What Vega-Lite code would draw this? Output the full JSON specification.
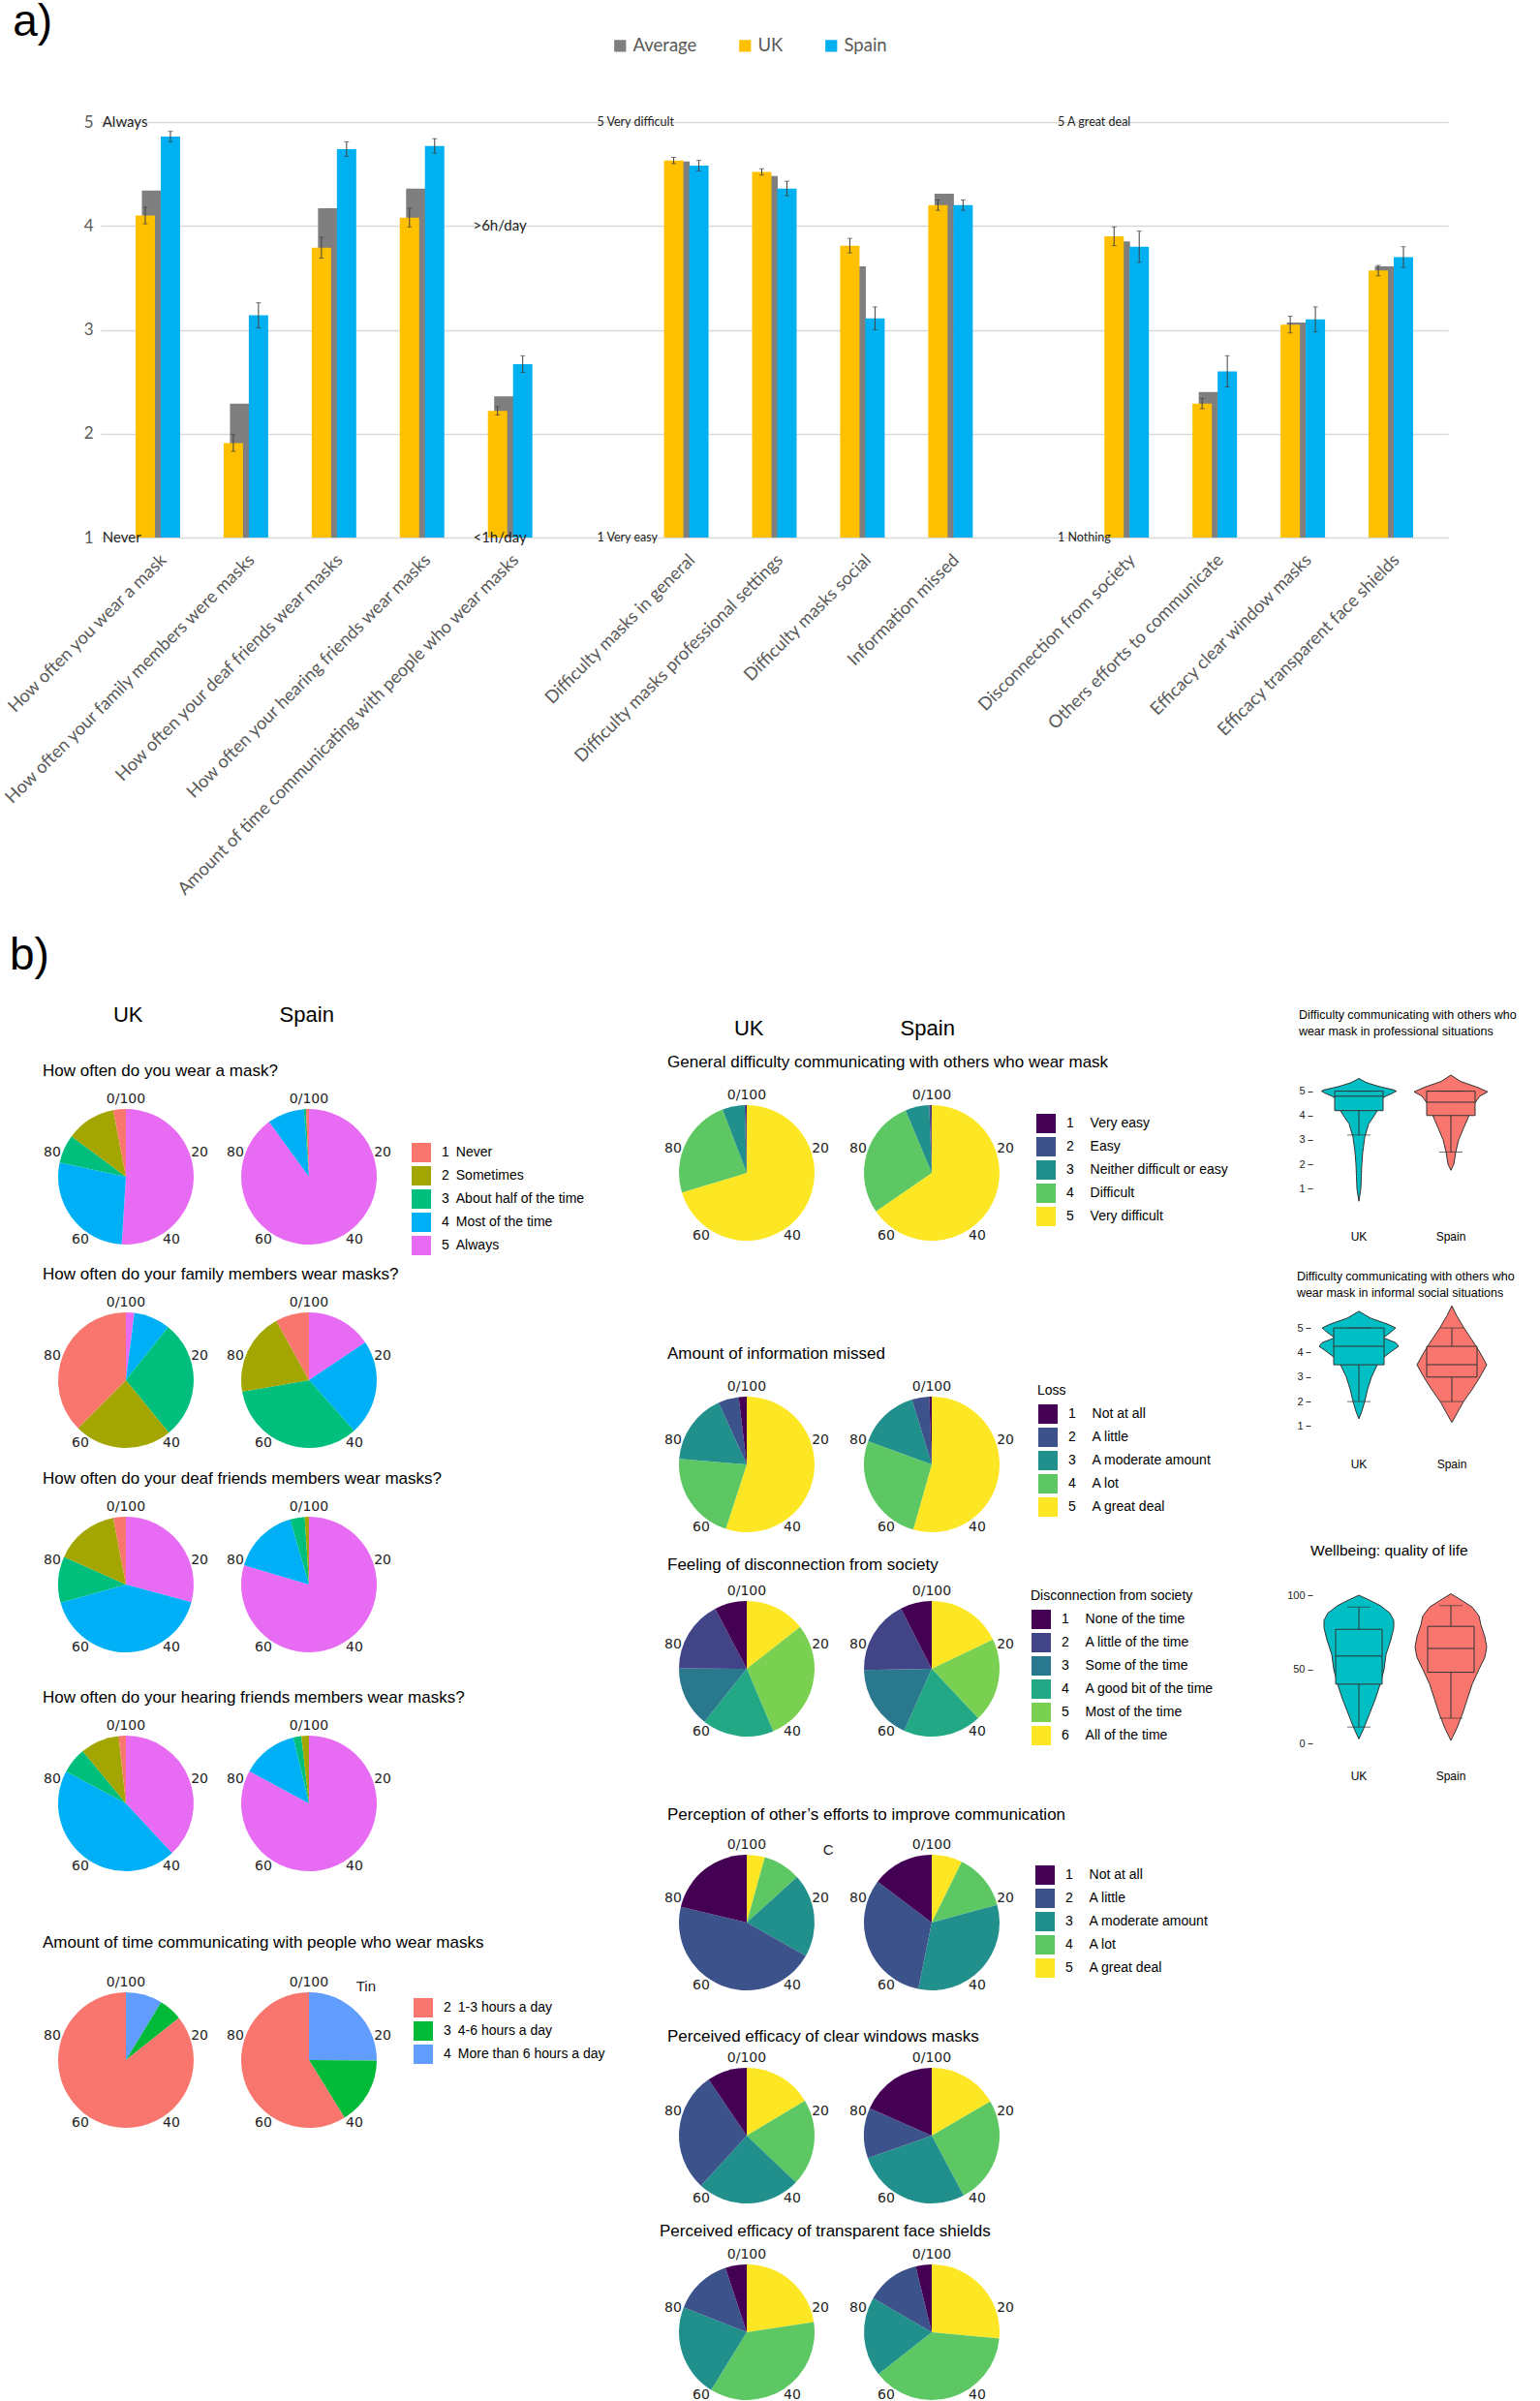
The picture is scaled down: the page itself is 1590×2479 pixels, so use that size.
{
"$schema":"https://vega.github.io/schema/vega-lite/v6.json",
"padding":0,
"background":"white",
"config":{"view":{"stroke":null},"font":"Liberation Sans","axis":{"labelOverlap":false,"labelSeparation":0},"title":{"fontWeight":"normal","color":"#000","font":"Liberation Sans"},"legend":{"labelFont":"Liberation Sans","titleFont":"Liberation Sans","titleFontWeight":"normal","titleColor":"#000","labelColor":"#000"},"header":{"labelFont":"Liberation Sans"}},
"datasets":{
"bars":[
{"cat":"How often you wear a mask","s":"Average","v":4.34},
{"cat":"How often your family members were masks","s":"Average","v":2.29},
{"cat":"How often your deaf friends wear masks","s":"Average","v":4.17},
{"cat":"How often your hearing friends wear masks","s":"Average","v":4.36},
{"cat":"Amount of time communicating with people who wear masks","s":"Average","v":2.36},
{"cat":"Difficulty masks in general","s":"Average","v":4.62},
{"cat":"Difficulty masks professional settings","s":"Average","v":4.48},
{"cat":"Difficulty masks social","s":"Average","v":3.61},
{"cat":"Information missed","s":"Average","v":4.31},
{"cat":"Disconnection from society","s":"Average","v":3.85},
{"cat":"Others efforts to communicate","s":"Average","v":2.40},
{"cat":"Efficacy clear window masks","s":"Average","v":3.07},
{"cat":"Efficacy transparent face shields","s":"Average","v":3.61},
{"cat":"How often you wear a mask","s":"UK","v":4.10,"lo":4.02,"hi":4.18},
{"cat":"How often your family members were masks","s":"UK","v":1.91,"lo":1.83,"hi":1.99},
{"cat":"How often your deaf friends wear masks","s":"UK","v":3.79,"lo":3.69,"hi":3.89},
{"cat":"How often your hearing friends wear masks","s":"UK","v":4.08,"lo":3.99,"hi":4.17},
{"cat":"Amount of time communicating with people who wear masks","s":"UK","v":2.22,"lo":2.18,"hi":2.26},
{"cat":"Difficulty masks in general","s":"UK","v":4.63,"lo":4.60,"hi":4.66},
{"cat":"Difficulty masks professional settings","s":"UK","v":4.52,"lo":4.49,"hi":4.55},
{"cat":"Difficulty masks social","s":"UK","v":3.81,"lo":3.74,"hi":3.88},
{"cat":"Information missed","s":"UK","v":4.20,"lo":4.15,"hi":4.25},
{"cat":"Disconnection from society","s":"UK","v":3.90,"lo":3.81,"hi":3.99},
{"cat":"Others efforts to communicate","s":"UK","v":2.29,"lo":2.24,"hi":2.34},
{"cat":"Efficacy clear window masks","s":"UK","v":3.05,"lo":2.97,"hi":3.13},
{"cat":"Efficacy transparent face shields","s":"UK","v":3.57,"lo":3.52,"hi":3.62},
{"cat":"How often you wear a mask","s":"Spain","v":4.86,"lo":4.81,"hi":4.91},
{"cat":"How often your family members were masks","s":"Spain","v":3.14,"lo":3.02,"hi":3.26},
{"cat":"How often your deaf friends wear masks","s":"Spain","v":4.74,"lo":4.67,"hi":4.81},
{"cat":"How often your hearing friends wear masks","s":"Spain","v":4.77,"lo":4.70,"hi":4.84},
{"cat":"Amount of time communicating with people who wear masks","s":"Spain","v":2.67,"lo":2.59,"hi":2.75},
{"cat":"Difficulty masks in general","s":"Spain","v":4.58,"lo":4.53,"hi":4.63},
{"cat":"Difficulty masks professional settings","s":"Spain","v":4.36,"lo":4.29,"hi":4.43},
{"cat":"Difficulty masks social","s":"Spain","v":3.11,"lo":3.00,"hi":3.22},
{"cat":"Information missed","s":"Spain","v":4.20,"lo":4.15,"hi":4.25},
{"cat":"Disconnection from society","s":"Spain","v":3.80,"lo":3.65,"hi":3.95},
{"cat":"Others efforts to communicate","s":"Spain","v":2.60,"lo":2.45,"hi":2.75},
{"cat":"Efficacy clear window masks","s":"Spain","v":3.10,"lo":2.98,"hi":3.22},
{"cat":"Efficacy transparent face shields","s":"Spain","v":3.70,"lo":3.60,"hi":3.80}
],
"ann":[
{"cat":"How often you wear a mask","v":5,"t":"Always","grp":"a"},
{"cat":"How often you wear a mask","v":1,"t":"Never","grp":"a"},
{"cat":"Amount of time communicating with people who wear masks","v":4,"t":">6h/day","grp":"b"},
{"cat":"Amount of time communicating with people who wear masks","v":1,"t":"<1h/day","grp":"b"},
{"cat":" ","v":5,"t":"5 Very difficult","grp":"c"},
{"cat":" ","v":1,"t":"1 Very easy","grp":"c"},
{"cat":"  ","v":5,"t":"5 A great deal","grp":"d"},
{"cat":"  ","v":1,"t":"1 Nothing","grp":"d"}
],
"pticks":[{"t":0,"tl":"0/100"},{"t":20,"tl":"20"},{"t":40,"tl":"40"},{"t":60,"tl":"60"},{"t":80,"tl":"80"}],
"stray":[{"w":"time","t":10.5,"tl":"Tin"},{"w":"effort","t":13.4,"tl":"C"}],
"pies":[
{"q":"wear","c":"UK","code":5,"pct":51},{"q":"wear","c":"UK","code":4,"pct":27.4},{"q":"wear","c":"UK","code":3,"pct":6.8},{"q":"wear","c":"UK","code":2,"pct":11.8},{"q":"wear","c":"UK","code":1,"pct":3},
{"q":"wear","c":"Spain","code":5,"pct":90},{"q":"wear","c":"Spain","code":4,"pct":8.8},{"q":"wear","c":"Spain","code":3,"pct":0.5},{"q":"wear","c":"Spain","code":2,"pct":0},{"q":"wear","c":"Spain","code":1,"pct":0.7},
{"q":"family","c":"UK","code":5,"pct":2},{"q":"family","c":"UK","code":4,"pct":8.7},{"q":"family","c":"UK","code":3,"pct":28.4},{"q":"family","c":"UK","code":2,"pct":23.4},{"q":"family","c":"UK","code":1,"pct":37.5},
{"q":"family","c":"Spain","code":5,"pct":15.6},{"q":"family","c":"Spain","code":4,"pct":22.8},{"q":"family","c":"Spain","code":3,"pct":33.9},{"q":"family","c":"Spain","code":2,"pct":19.7},{"q":"family","c":"Spain","code":1,"pct":8},
{"q":"deaf","c":"UK","code":5,"pct":29.2},{"q":"deaf","c":"UK","code":4,"pct":41.5},{"q":"deaf","c":"UK","code":3,"pct":11},{"q":"deaf","c":"UK","code":2,"pct":15.3},{"q":"deaf","c":"UK","code":1,"pct":3},
{"q":"deaf","c":"Spain","code":5,"pct":79.6},{"q":"deaf","c":"Spain","code":4,"pct":15.9},{"q":"deaf","c":"Spain","code":3,"pct":3.5},{"q":"deaf","c":"Spain","code":2,"pct":1},{"q":"deaf","c":"Spain","code":1,"pct":0},
{"q":"hearing","c":"UK","code":5,"pct":38.1},{"q":"hearing","c":"UK","code":4,"pct":44.7},{"q":"hearing","c":"UK","code":3,"pct":6.2},{"q":"hearing","c":"UK","code":2,"pct":9.3},{"q":"hearing","c":"UK","code":1,"pct":1.7},
{"q":"hearing","c":"Spain","code":5,"pct":82.9},{"q":"hearing","c":"Spain","code":4,"pct":13.4},{"q":"hearing","c":"Spain","code":3,"pct":1.9},{"q":"hearing","c":"Spain","code":2,"pct":1.8},{"q":"hearing","c":"Spain","code":1,"pct":0},
{"q":"time","c":"UK","code":4,"pct":8.7},{"q":"time","c":"UK","code":3,"pct":5.6},{"q":"time","c":"UK","code":2,"pct":85.7},
{"q":"time","c":"Spain","code":4,"pct":25.1},{"q":"time","c":"Spain","code":3,"pct":16.1},{"q":"time","c":"Spain","code":2,"pct":58.8},
{"q":"general","c":"UK","code":5,"pct":70.3},{"q":"general","c":"UK","code":4,"pct":23.9},{"q":"general","c":"UK","code":3,"pct":5.3},{"q":"general","c":"UK","code":2,"pct":0.3},{"q":"general","c":"UK","code":1,"pct":0.2},
{"q":"general","c":"Spain","code":5,"pct":65.4},{"q":"general","c":"Spain","code":4,"pct":28.3},{"q":"general","c":"Spain","code":3,"pct":5.7},{"q":"general","c":"Spain","code":2,"pct":0.4},{"q":"general","c":"Spain","code":1,"pct":0.2},
{"q":"info","c":"UK","code":5,"pct":55},{"q":"info","c":"UK","code":4,"pct":21.3},{"q":"info","c":"UK","code":3,"pct":16.9},{"q":"info","c":"UK","code":2,"pct":4.9},{"q":"info","c":"UK","code":1,"pct":1.9},
{"q":"info","c":"Spain","code":5,"pct":54.4},{"q":"info","c":"Spain","code":4,"pct":26.2},{"q":"info","c":"Spain","code":3,"pct":14.7},{"q":"info","c":"Spain","code":2,"pct":4.1},{"q":"info","c":"Spain","code":1,"pct":0.6},
{"q":"disc","c":"UK","code":6,"pct":14.4},{"q":"disc","c":"UK","code":5,"pct":29.2},{"q":"disc","c":"UK","code":4,"pct":17.1},{"q":"disc","c":"UK","code":3,"pct":14.4},{"q":"disc","c":"UK","code":2,"pct":17.2},{"q":"disc","c":"UK","code":1,"pct":7.7},
{"q":"disc","c":"Spain","code":6,"pct":17.9},{"q":"disc","c":"Spain","code":5,"pct":20.1},{"q":"disc","c":"Spain","code":4,"pct":18.7},{"q":"disc","c":"Spain","code":3,"pct":18},{"q":"disc","c":"Spain","code":2,"pct":17.8},{"q":"disc","c":"Spain","code":1,"pct":7.5},
{"q":"effort","c":"UK","code":5,"pct":4.3},{"q":"effort","c":"UK","code":4,"pct":9},{"q":"effort","c":"UK","code":3,"pct":19.9},{"q":"effort","c":"UK","code":2,"pct":45.5},{"q":"effort","c":"UK","code":1,"pct":21.3},
{"q":"effort","c":"Spain","code":5,"pct":7.3},{"q":"effort","c":"Spain","code":4,"pct":13.5},{"q":"effort","c":"Spain","code":3,"pct":32.4},{"q":"effort","c":"Spain","code":2,"pct":32.1},{"q":"effort","c":"Spain","code":1,"pct":14.7},
{"q":"clear","c":"UK","code":5,"pct":16.4},{"q":"clear","c":"UK","code":4,"pct":20.7},{"q":"clear","c":"UK","code":3,"pct":24.7},{"q":"clear","c":"UK","code":2,"pct":28.7},{"q":"clear","c":"UK","code":1,"pct":9.5},
{"q":"clear","c":"Spain","code":5,"pct":16.6},{"q":"clear","c":"Spain","code":4,"pct":25.6},{"q":"clear","c":"Spain","code":3,"pct":27.4},{"q":"clear","c":"Spain","code":2,"pct":12},{"q":"clear","c":"Spain","code":1,"pct":18.4},
{"q":"shield","c":"UK","code":5,"pct":22.6},{"q":"shield","c":"UK","code":4,"pct":36.2},{"q":"shield","c":"UK","code":3,"pct":22.2},{"q":"shield","c":"UK","code":2,"pct":13.9},{"q":"shield","c":"UK","code":1,"pct":5.1},
{"q":"shield","c":"Spain","code":5,"pct":26.5},{"q":"shield","c":"Spain","code":4,"pct":37.9},{"q":"shield","c":"Spain","code":3,"pct":19},{"q":"shield","c":"Spain","code":2,"pct":12.8},{"q":"shield","c":"Spain","code":1,"pct":3.8}
],
"vio":[
{"p":1,"g":"UK","k":"d","v":0.48,"d":0},{"p":1,"g":"UK","k":"d","v":1.0,"d":2},{"p":1,"g":"UK","k":"d","v":1.5,"d":2.5},{"p":1,"g":"UK","k":"d","v":2.0,"d":3},{"p":1,"g":"UK","k":"d","v":2.5,"d":4},{"p":1,"g":"UK","k":"d","v":3.1,"d":6},{"p":1,"g":"UK","k":"d","v":3.65,"d":10},{"p":1,"g":"UK","k":"d","v":4.0,"d":16},{"p":1,"g":"UK","k":"d","v":4.2,"d":19},{"p":1,"g":"UK","k":"d","v":4.4,"d":22},{"p":1,"g":"UK","k":"d","v":4.7,"d":24},{"p":1,"g":"UK","k":"d","v":4.8,"d":28},{"p":1,"g":"UK","k":"d","v":4.9,"d":34},{"p":1,"g":"UK","k":"d","v":5.0,"d":38.7},{"p":1,"g":"UK","k":"d","v":5.05,"d":36},{"p":1,"g":"UK","k":"d","v":5.2,"d":20},{"p":1,"g":"UK","k":"d","v":5.35,"d":8},{"p":1,"g":"UK","k":"d","v":5.52,"d":0},
{"p":1,"g":"Spain","k":"d","v":1.75,"d":0},{"p":1,"g":"Spain","k":"d","v":2.0,"d":3},{"p":1,"g":"Spain","k":"d","v":2.5,"d":5},{"p":1,"g":"Spain","k":"d","v":3.0,"d":8},{"p":1,"g":"Spain","k":"d","v":3.5,"d":13.3},{"p":1,"g":"Spain","k":"d","v":4.0,"d":18.7},{"p":1,"g":"Spain","k":"d","v":4.5,"d":24.5},{"p":1,"g":"Spain","k":"d","v":4.8,"d":30},{"p":1,"g":"Spain","k":"d","v":4.97,"d":38},{"p":1,"g":"Spain","k":"d","v":5.15,"d":28},{"p":1,"g":"Spain","k":"d","v":5.4,"d":10},{"p":1,"g":"Spain","k":"d","v":5.66,"d":0},
{"p":2,"g":"UK","k":"d","v":1.3,"d":0},{"p":2,"g":"UK","k":"d","v":1.6,"d":3},{"p":2,"g":"UK","k":"d","v":2.0,"d":6},{"p":2,"g":"UK","k":"d","v":2.5,"d":9},{"p":2,"g":"UK","k":"d","v":3.0,"d":13},{"p":2,"g":"UK","k":"d","v":3.5,"d":19},{"p":2,"g":"UK","k":"d","v":3.75,"d":24},{"p":2,"g":"UK","k":"d","v":4.0,"d":32},{"p":2,"g":"UK","k":"d","v":4.25,"d":41},{"p":2,"g":"UK","k":"d","v":4.4,"d":38},{"p":2,"g":"UK","k":"d","v":4.6,"d":25},{"p":2,"g":"UK","k":"d","v":4.8,"d":32},{"p":2,"g":"UK","k":"d","v":5.0,"d":38},{"p":2,"g":"UK","k":"d","v":5.15,"d":30},{"p":2,"g":"UK","k":"d","v":5.4,"d":12},{"p":2,"g":"UK","k":"d","v":5.68,"d":0},
{"p":2,"g":"Spain","k":"d","v":1.15,"d":0},{"p":2,"g":"Spain","k":"d","v":1.5,"d":5},{"p":2,"g":"Spain","k":"d","v":2.0,"d":12},{"p":2,"g":"Spain","k":"d","v":2.5,"d":21},{"p":2,"g":"Spain","k":"d","v":3.0,"d":29},{"p":2,"g":"Spain","k":"d","v":3.5,"d":36},{"p":2,"g":"Spain","k":"d","v":4.0,"d":29},{"p":2,"g":"Spain","k":"d","v":4.5,"d":21},{"p":2,"g":"Spain","k":"d","v":5.0,"d":12.5},{"p":2,"g":"Spain","k":"d","v":5.5,"d":5},{"p":2,"g":"Spain","k":"d","v":5.9,"d":0},
{"p":3,"g":"UK","k":"d","v":3,"d":0},{"p":3,"g":"UK","k":"d","v":10,"d":5},{"p":3,"g":"UK","k":"d","v":20,"d":11},{"p":3,"g":"UK","k":"d","v":30,"d":17},{"p":3,"g":"UK","k":"d","v":40,"d":22},{"p":3,"g":"UK","k":"d","v":50,"d":26},{"p":3,"g":"UK","k":"d","v":60,"d":28},{"p":3,"g":"UK","k":"d","v":70,"d":33},{"p":3,"g":"UK","k":"d","v":78,"d":36},{"p":3,"g":"UK","k":"d","v":83,"d":36},{"p":3,"g":"UK","k":"d","v":88,"d":32},{"p":3,"g":"UK","k":"d","v":93,"d":22},{"p":3,"g":"UK","k":"d","v":97,"d":10},{"p":3,"g":"UK","k":"d","v":100,"d":0},
{"p":3,"g":"Spain","k":"d","v":2,"d":0},{"p":3,"g":"Spain","k":"d","v":10,"d":6},{"p":3,"g":"Spain","k":"d","v":20,"d":12},{"p":3,"g":"Spain","k":"d","v":30,"d":17},{"p":3,"g":"Spain","k":"d","v":40,"d":22},{"p":3,"g":"Spain","k":"d","v":50,"d":29},{"p":3,"g":"Spain","k":"d","v":58,"d":35},{"p":3,"g":"Spain","k":"d","v":65,"d":37},{"p":3,"g":"Spain","k":"d","v":72,"d":35},{"p":3,"g":"Spain","k":"d","v":80,"d":31},{"p":3,"g":"Spain","k":"d","v":86,"d":29},{"p":3,"g":"Spain","k":"d","v":92,"d":22},{"p":3,"g":"Spain","k":"d","v":97,"d":10},{"p":3,"g":"Spain","k":"d","v":101,"d":0},
{"p":1,"g":"UK","k":"b","q1":4.2,"med":4.8,"q3":5,"lo":3.2,"hi":5},
{"p":1,"g":"Spain","k":"b","q1":4.0,"med":4.55,"q3":5,"lo":2.5,"hi":5},
{"p":2,"g":"UK","k":"b","q1":3.5,"med":4.25,"q3":5,"lo":2,"hi":5},
{"p":2,"g":"Spain","k":"b","q1":3,"med":3.5,"q3":4.25,"lo":2,"hi":5},
{"p":3,"g":"UK","k":"b","q1":40,"med":59,"q3":77,"lo":11,"hi":92},
{"p":3,"g":"Spain","k":"b","q1":48,"med":64,"q3":79,"lo":17,"hi":93}
]
},
"spacing":35,
"resolve":{"scale":{"color":"independent"}},
"vconcat":[
{
"width":1455,"height":429,
"title":{"text":"a)","fontSize":46,"anchor":"start","offset":-9,"dx":13},
"encoding":{
"x":{"field":"cat","type":"nominal","scale":{"domain":["How often you wear a mask","How often your family members were masks","How often your deaf friends wear masks","How often your hearing friends wear masks","Amount of time communicating with people who wear masks"," ","Difficulty masks in general","Difficulty masks professional settings","Difficulty masks social","Information missed","  ","Disconnection from society","Others efforts to communicate","Efficacy clear window masks","Efficacy transparent face shields"],"range":[64,1455],"paddingInner":0.643,"paddingOuter":0.47},"axis":{"title":null,"labelAngle":-45,"labelFont":"Lato","labelFontSize":18.3,"labelColor":"#595959","labelLimit":700,"ticks":false,"domain":false,"labelPadding":14}},
"y":{"field":"v","type":"quantitative","scale":{"domain":[1,5],"nice":false,"zero":false},"axis":{"values":[1,2,3,4,5],"title":null,"grid":true,"gridColor":"#D9D9D9","gridWidth":1.5,"domain":false,"ticks":false,"labelFont":"Lato","labelFontSize":17,"labelColor":"#595959","labelPadding":8,"offset":-64}}
},
"layer":[
{"data":{"name":"bars"},"mark":{"type":"bar","width":20},"encoding":{"y2":{"datum":1},"xOffset":{"field":"s","type":"nominal","scale":{"domain":["UK","Average","g1","g2","Spain"],"paddingInner":0,"paddingOuter":0}},"color":{"field":"s","type":"nominal","scale":{"domain":["Average","UK","Spain"],"range":["#7F7F7F","#FFC000","#00B0F0"]},"legend":{"title":null,"orient":"none","legendX":591,"legendY":-88,"direction":"horizontal","symbolType":"square","symbolSize":150,"labelFontSize":18.5,"labelFont":"Lato","labelColor":"#595959","columnPadding":40,"labelOffset":4}}}},
{"data":{"name":"bars"},"transform":[{"filter":"datum.s!='Average'"}],"mark":{"type":"rule","color":"#404040","strokeWidth":1},"encoding":{"xOffset":{"field":"s","type":"nominal","scale":{"domain":["UK","Average","g1","g2","Spain"],"paddingInner":0,"paddingOuter":0}},"y":{"field":"lo","type":"quantitative"},"y2":{"field":"hi"}}},
{"data":{"name":"bars"},"transform":[{"filter":"datum.s!='Average'"}],"mark":{"type":"tick","color":"#404040","size":5,"thickness":1},"encoding":{"xOffset":{"field":"s","type":"nominal","scale":{"domain":["UK","Average","g1","g2","Spain"],"paddingInner":0,"paddingOuter":0}},"y":{"field":"lo","type":"quantitative"}}},
{"data":{"name":"bars"},"transform":[{"filter":"datum.s!='Average'"}],"mark":{"type":"tick","color":"#404040","size":5,"thickness":1},"encoding":{"xOffset":{"field":"s","type":"nominal","scale":{"domain":["UK","Average","g1","g2","Spain"],"paddingInner":0,"paddingOuter":0}},"y":{"field":"hi","type":"quantitative"}}},
{"data":{"name":"ann"},"transform":[{"filter":"datum.grp=='a'"}],"mark":{"type":"text","align":"left","baseline":"middle","dx":-41,"fontSize":15,"font":"Lato","color":"#222"},"encoding":{"x":{"field":"cat","type":"nominal","bandPosition":0},"text":{"field":"t","type":"nominal"}}},
{"data":{"name":"ann"},"transform":[{"filter":"datum.grp=='b'"}],"mark":{"type":"text","align":"left","baseline":"middle","dx":-22,"fontSize":15,"font":"Lato","color":"#222"},"encoding":{"x":{"field":"cat","type":"nominal","bandPosition":0},"text":{"field":"t","type":"nominal"}}},
{"data":{"name":"ann"},"transform":[{"filter":"datum.grp=='c'"}],"mark":{"type":"text","align":"left","baseline":"middle","dx":15,"fontSize":12.5,"font":"Lato","color":"#222"},"encoding":{"x":{"field":"cat","type":"nominal","bandPosition":0},"text":{"field":"t","type":"nominal"}}},
{"data":{"name":"ann"},"transform":[{"filter":"datum.grp=='d'"}],"mark":{"type":"text","align":"left","baseline":"middle","dx":36,"fontSize":12.5,"font":"Lato","color":"#222"},"encoding":{"x":{"field":"cat","type":"nominal","bandPosition":0},"text":{"field":"t","type":"nominal"}}}
]
},
{
"title":{"text":"b)","fontSize":46,"anchor":"start","offset":25,"dx":-30},
"spacing":56,
"resolve":{"scale":{"color":"independent"}},
"hconcat":[
{"spacing":0,"resolve":{"scale":{"color":"independent"}},"vconcat":[
{"width":369,"height":24,"data":{"values":[{"h":"UK"},{"h":"Spain"}]},"mark":{"type":"text","fontSize":22},"encoding":{"x":{"field":"h","type":"nominal","scale":{"domain":["UK","Spain"],"paddingInner":0.0476,"paddingOuter":0},"axis":null},"text":{"field":"h","type":"nominal"}}},
{"width":1,"height":37,"data":{"values":[]},"mark":"point"},
{"title":{"text":"How often do you wear a mask?","anchor":"start","fontSize":17,"offset":10,"dx":4},"spacing":9,"hconcat":[
{"width":180,"height":180,"layer":[{"data":{"name":"pies"},"transform":[{"filter":"datum.q=='wear'&&datum.c=='UK'"}],"mark":{"type":"arc","outerRadius":70},"encoding":{"theta":{"field":"pct","type":"quantitative","stack":true,"scale":{"domain":[0,100]}},"color":{"field":"code","type":"nominal","scale":{"domain":[1,2,3,4,5],"range":["#F8766D","#A3A500","#00BF7D","#00B0F6","#E76BF3"]},"legend":{"title":null,"orient":"none","legendX":384,"legendY":54,"symbolType":"square","symbolSize":441,"symbolStrokeColor":"white","symbolStrokeWidth":1,"labelFontSize":14,"labelLimit":400,"rowPadding":-3,"labelOffset":10,"labelExpr":"['','1\u2002Never','2\u2002Sometimes','3\u2002About half of the time','4\u2002Most of the time','5\u2002Always'][datum.value]"}},"order":{"field":"code","type":"quantitative","sort":"descending"}}},{"data":{"name":"pticks"},"mark":{"type":"text","radius":80,"font":"DejaVu Sans","fontSize":14,"color":"#222"},"encoding":{"theta":{"field":"t","type":"quantitative","scale":{"domain":[0,100]}},"text":{"field":"tl","type":"nominal"}}}]},
{"width":180,"height":180,"layer":[{"data":{"name":"pies"},"transform":[{"filter":"datum.q=='wear'&&datum.c=='Spain'"}],"mark":{"type":"arc","outerRadius":70},"encoding":{"theta":{"field":"pct","type":"quantitative","stack":true,"scale":{"domain":[0,100]}},"color":{"field":"code","type":"nominal","scale":{"domain":[1,2,3,4,5],"range":["#F8766D","#A3A500","#00BF7D","#00B0F6","#E76BF3"]},"legend":{"title":null,"orient":"none","legendX":384,"legendY":54,"symbolType":"square","symbolSize":441,"symbolStrokeColor":"white","symbolStrokeWidth":1,"labelFontSize":14,"labelLimit":400,"rowPadding":-3,"labelOffset":10,"labelExpr":"['','1\u2002Never','2\u2002Sometimes','3\u2002About half of the time','4\u2002Most of the time','5\u2002Always'][datum.value]"}},"order":{"field":"code","type":"quantitative","sort":"descending"}}},{"data":{"name":"pticks"},"mark":{"type":"text","radius":80,"font":"DejaVu Sans","fontSize":14,"color":"#222"},"encoding":{"theta":{"field":"t","type":"quantitative","scale":{"domain":[0,100]}},"text":{"field":"tl","type":"nominal"}}}]}
]},
{"width":1,"height":2,"data":{"values":[]},"mark":"point"},
{"title":{"text":"How often do your family members wear masks?","anchor":"start","fontSize":17,"offset":10,"dx":4},"spacing":9,"hconcat":[
{"width":180,"height":180,"layer":[{"data":{"name":"pies"},"transform":[{"filter":"datum.q=='family'&&datum.c=='UK'"}],"mark":{"type":"arc","outerRadius":70},"encoding":{"theta":{"field":"pct","type":"quantitative","stack":true,"scale":{"domain":[0,100]}},"color":{"field":"code","type":"nominal","scale":{"domain":[1,2,3,4,5],"range":["#F8766D","#A3A500","#00BF7D","#00B0F6","#E76BF3"]},"legend":null},"order":{"field":"code","type":"quantitative","sort":"descending"}}},{"data":{"name":"pticks"},"mark":{"type":"text","radius":80,"font":"DejaVu Sans","fontSize":14,"color":"#222"},"encoding":{"theta":{"field":"t","type":"quantitative","scale":{"domain":[0,100]}},"text":{"field":"tl","type":"nominal"}}}]},
{"width":180,"height":180,"layer":[{"data":{"name":"pies"},"transform":[{"filter":"datum.q=='family'&&datum.c=='Spain'"}],"mark":{"type":"arc","outerRadius":70},"encoding":{"theta":{"field":"pct","type":"quantitative","stack":true,"scale":{"domain":[0,100]}},"color":{"field":"code","type":"nominal","scale":{"domain":[1,2,3,4,5],"range":["#F8766D","#A3A500","#00BF7D","#00B0F6","#E76BF3"]},"legend":null},"order":{"field":"code","type":"quantitative","sort":"descending"}}},{"data":{"name":"pticks"},"mark":{"type":"text","radius":80,"font":"DejaVu Sans","fontSize":14,"color":"#222"},"encoding":{"theta":{"field":"t","type":"quantitative","scale":{"domain":[0,100]}},"text":{"field":"tl","type":"nominal"}}}]}
]},
{"width":1,"height":3,"data":{"values":[]},"mark":"point"},
{"title":{"text":"How often do your deaf friends members wear masks?","anchor":"start","fontSize":17,"offset":10,"dx":4},"spacing":9,"hconcat":[
{"width":180,"height":180,"layer":[{"data":{"name":"pies"},"transform":[{"filter":"datum.q=='deaf'&&datum.c=='UK'"}],"mark":{"type":"arc","outerRadius":70},"encoding":{"theta":{"field":"pct","type":"quantitative","stack":true,"scale":{"domain":[0,100]}},"color":{"field":"code","type":"nominal","scale":{"domain":[1,2,3,4,5],"range":["#F8766D","#A3A500","#00BF7D","#00B0F6","#E76BF3"]},"legend":null},"order":{"field":"code","type":"quantitative","sort":"descending"}}},{"data":{"name":"pticks"},"mark":{"type":"text","radius":80,"font":"DejaVu Sans","fontSize":14,"color":"#222"},"encoding":{"theta":{"field":"t","type":"quantitative","scale":{"domain":[0,100]}},"text":{"field":"tl","type":"nominal"}}}]},
{"width":180,"height":180,"layer":[{"data":{"name":"pies"},"transform":[{"filter":"datum.q=='deaf'&&datum.c=='Spain'"}],"mark":{"type":"arc","outerRadius":70},"encoding":{"theta":{"field":"pct","type":"quantitative","stack":true,"scale":{"domain":[0,100]}},"color":{"field":"code","type":"nominal","scale":{"domain":[1,2,3,4,5],"range":["#F8766D","#A3A500","#00BF7D","#00B0F6","#E76BF3"]},"legend":null},"order":{"field":"code","type":"quantitative","sort":"descending"}}},{"data":{"name":"pticks"},"mark":{"type":"text","radius":80,"font":"DejaVu Sans","fontSize":14,"color":"#222"},"encoding":{"theta":{"field":"t","type":"quantitative","scale":{"domain":[0,100]}},"text":{"field":"tl","type":"nominal"}}}]}
]},
{"width":1,"height":18,"data":{"values":[]},"mark":"point"},
{"title":{"text":"How often do your hearing friends members wear masks?","anchor":"start","fontSize":17,"offset":10,"dx":4},"spacing":9,"hconcat":[
{"width":180,"height":180,"layer":[{"data":{"name":"pies"},"transform":[{"filter":"datum.q=='hearing'&&datum.c=='UK'"}],"mark":{"type":"arc","outerRadius":70},"encoding":{"theta":{"field":"pct","type":"quantitative","stack":true,"scale":{"domain":[0,100]}},"color":{"field":"code","type":"nominal","scale":{"domain":[1,2,3,4,5],"range":["#F8766D","#A3A500","#00BF7D","#00B0F6","#E76BF3"]},"legend":null},"order":{"field":"code","type":"quantitative","sort":"descending"}}},{"data":{"name":"pticks"},"mark":{"type":"text","radius":80,"font":"DejaVu Sans","fontSize":14,"color":"#222"},"encoding":{"theta":{"field":"t","type":"quantitative","scale":{"domain":[0,100]}},"text":{"field":"tl","type":"nominal"}}}]},
{"width":180,"height":180,"layer":[{"data":{"name":"pies"},"transform":[{"filter":"datum.q=='hearing'&&datum.c=='Spain'"}],"mark":{"type":"arc","outerRadius":70},"encoding":{"theta":{"field":"pct","type":"quantitative","stack":true,"scale":{"domain":[0,100]}},"color":{"field":"code","type":"nominal","scale":{"domain":[1,2,3,4,5],"range":["#F8766D","#A3A500","#00BF7D","#00B0F6","#E76BF3"]},"legend":null},"order":{"field":"code","type":"quantitative","sort":"descending"}}},{"data":{"name":"pticks"},"mark":{"type":"text","radius":80,"font":"DejaVu Sans","fontSize":14,"color":"#222"},"encoding":{"theta":{"field":"t","type":"quantitative","scale":{"domain":[0,100]}},"text":{"field":"tl","type":"nominal"}}}]}
]},
{"width":1,"height":45,"data":{"values":[]},"mark":"point"},
{"title":{"text":"Amount of time communicating with people who wear masks","anchor":"start","fontSize":17,"offset":22,"dx":4},"spacing":9,"hconcat":[
{"width":180,"height":180,"layer":[{"data":{"name":"pies"},"transform":[{"filter":"datum.q=='time'&&datum.c=='UK'"}],"mark":{"type":"arc","outerRadius":70},"encoding":{"theta":{"field":"pct","type":"quantitative","stack":true,"scale":{"domain":[0,100]}},"color":{"field":"code","type":"nominal","scale":{"domain":[2,3,4],"range":["#F8766D","#00BA38","#619CFF"]},"legend":{"title":null,"orient":"none","legendX":386,"legendY":25,"symbolType":"square","symbolSize":441,"symbolStrokeColor":"white","symbolStrokeWidth":1,"labelFontSize":14,"labelLimit":400,"rowPadding":-3,"labelOffset":10,"labelExpr":"['','','2\u20021-3 hours a day','3\u20024-6 hours a day','4\u2002More than 6 hours a day'][datum.value]"}},"order":{"field":"code","type":"quantitative","sort":"descending"}}},{"data":{"name":"pticks"},"mark":{"type":"text","radius":80,"font":"DejaVu Sans","fontSize":14,"color":"#222"},"encoding":{"theta":{"field":"t","type":"quantitative","scale":{"domain":[0,100]}},"text":{"field":"tl","type":"nominal"}}}]},
{"width":180,"height":180,"layer":[{"data":{"name":"pies"},"transform":[{"filter":"datum.q=='time'&&datum.c=='Spain'"}],"mark":{"type":"arc","outerRadius":70},"encoding":{"theta":{"field":"pct","type":"quantitative","stack":true,"scale":{"domain":[0,100]}},"color":{"field":"code","type":"nominal","scale":{"domain":[2,3,4],"range":["#F8766D","#00BA38","#619CFF"]},"legend":{"title":null,"orient":"none","legendX":386,"legendY":25,"symbolType":"square","symbolSize":441,"symbolStrokeColor":"white","symbolStrokeWidth":1,"labelFontSize":14,"labelLimit":400,"rowPadding":-3,"labelOffset":10,"labelExpr":"['','','2\u20021-3 hours a day','3\u20024-6 hours a day','4\u2002More than 6 hours a day'][datum.value]"}},"order":{"field":"code","type":"quantitative","sort":"descending"}}},{"data":{"name":"pticks"},"mark":{"type":"text","radius":80,"font":"DejaVu Sans","fontSize":14,"color":"#222"},"encoding":{"theta":{"field":"t","type":"quantitative","scale":{"domain":[0,100]}},"text":{"field":"tl","type":"nominal"}}},{"data":{"name":"stray"},"transform":[{"filter":"datum.w=='time'"}],"mark":{"type":"text","radius":96,"fontSize":15,"color":"#222"},"encoding":{"theta":{"field":"t","type":"quantitative","scale":{"domain":[0,100]}},"text":{"field":"tl","type":"nominal"}}}]}
]}
]},
{"spacing":60,"resolve":{"scale":{"color":"independent"}},"hconcat":[
{"spacing":0,"resolve":{"scale":{"color":"independent"}},"vconcat":[
{"width":1,"height":14,"data":{"values":[]},"mark":"point"},
{"width":369,"height":24,"data":{"values":[{"h":"UK"},{"h":"Spain"}]},"mark":{"type":"text","fontSize":22},"encoding":{"x":{"field":"h","type":"nominal","scale":{"domain":["UK","Spain"],"paddingInner":0.0476,"paddingOuter":0},"axis":null},"text":{"field":"h","type":"nominal"}}},
{"width":1,"height":14,"data":{"values":[]},"mark":"point"},
{"title":{"text":"General difficulty communicating with others who wear mask","anchor":"start","fontSize":17,"offset":15,"dx":8},"spacing":11,"hconcat":[
{"width":180,"height":180,"layer":[{"data":{"name":"pies"},"transform":[{"filter":"datum.q=='general'&&datum.c=='UK'"}],"mark":{"type":"arc","outerRadius":70},"encoding":{"theta":{"field":"pct","type":"quantitative","stack":true,"scale":{"domain":[0,100]}},"color":{"field":"code","type":"nominal","scale":{"domain":[1,2,3,4,5],"range":["#440154","#3B528B","#21908C","#5DC863","#FDE725"]},"legend":{"title":null,"orient":"none","legendX":388,"legendY":28,"symbolType":"square","symbolSize":441,"symbolStrokeColor":"white","symbolStrokeWidth":1,"labelFontSize":14,"labelLimit":400,"rowPadding":-3,"labelOffset":10,"labelExpr":"['','1\u2003\u2009Very easy','2\u2003\u2009Easy','3\u2003\u2009Neither difficult or easy','4\u2003\u2009Difficult','5\u2003\u2009Very difficult'][datum.value]"}},"order":{"field":"code","type":"quantitative","sort":"descending"}}},{"data":{"name":"pticks"},"mark":{"type":"text","radius":80,"font":"DejaVu Sans","fontSize":14,"color":"#222"},"encoding":{"theta":{"field":"t","type":"quantitative","scale":{"domain":[0,100]}},"text":{"field":"tl","type":"nominal"}}}]},
{"width":180,"height":180,"layer":[{"data":{"name":"pies"},"transform":[{"filter":"datum.q=='general'&&datum.c=='Spain'"}],"mark":{"type":"arc","outerRadius":70},"encoding":{"theta":{"field":"pct","type":"quantitative","stack":true,"scale":{"domain":[0,100]}},"color":{"field":"code","type":"nominal","scale":{"domain":[1,2,3,4,5],"range":["#440154","#3B528B","#21908C","#5DC863","#FDE725"]},"legend":{"title":null,"orient":"none","legendX":388,"legendY":28,"symbolType":"square","symbolSize":441,"symbolStrokeColor":"white","symbolStrokeWidth":1,"labelFontSize":14,"labelLimit":400,"rowPadding":-3,"labelOffset":10,"labelExpr":"['','1\u2003\u2009Very easy','2\u2003\u2009Easy','3\u2003\u2009Neither difficult or easy','4\u2003\u2009Difficult','5\u2003\u2009Very difficult'][datum.value]"}},"order":{"field":"code","type":"quantitative","sort":"descending"}}},{"data":{"name":"pticks"},"mark":{"type":"text","radius":80,"font":"DejaVu Sans","fontSize":14,"color":"#222"},"encoding":{"theta":{"field":"t","type":"quantitative","scale":{"domain":[0,100]}},"text":{"field":"tl","type":"nominal"}}}]}
]},
{"width":1,"height":88,"data":{"values":[]},"mark":"point"},
{"title":{"text":"Amount of information missed","anchor":"start","fontSize":17,"offset":15,"dx":8},"spacing":11,"hconcat":[
{"width":180,"height":180,"layer":[{"data":{"name":"pies"},"transform":[{"filter":"datum.q=='info'&&datum.c=='UK'"}],"mark":{"type":"arc","outerRadius":70},"encoding":{"theta":{"field":"pct","type":"quantitative","stack":true,"scale":{"domain":[0,100]}},"color":{"field":"code","type":"nominal","scale":{"domain":[1,2,3,4,5],"range":["#440154","#3B528B","#21908C","#5DC863","#FDE725"]},"legend":{"title":"Loss","titleFontSize":14,"titlePadding":6,"orient":"none","legendX":390,"legendY":7,"symbolType":"square","symbolSize":441,"symbolStrokeColor":"white","symbolStrokeWidth":1,"labelFontSize":14,"labelLimit":400,"rowPadding":-3,"labelOffset":10,"labelExpr":"['','1\u2003\u2009Not at all','2\u2003\u2009A little','3\u2003\u2009A moderate amount','4\u2003\u2009A lot','5\u2003\u2009A great deal'][datum.value]"}},"order":{"field":"code","type":"quantitative","sort":"descending"}}},{"data":{"name":"pticks"},"mark":{"type":"text","radius":80,"font":"DejaVu Sans","fontSize":14,"color":"#222"},"encoding":{"theta":{"field":"t","type":"quantitative","scale":{"domain":[0,100]}},"text":{"field":"tl","type":"nominal"}}}]},
{"width":180,"height":180,"layer":[{"data":{"name":"pies"},"transform":[{"filter":"datum.q=='info'&&datum.c=='Spain'"}],"mark":{"type":"arc","outerRadius":70},"encoding":{"theta":{"field":"pct","type":"quantitative","stack":true,"scale":{"domain":[0,100]}},"color":{"field":"code","type":"nominal","scale":{"domain":[1,2,3,4,5],"range":["#440154","#3B528B","#21908C","#5DC863","#FDE725"]},"legend":{"title":"Loss","titleFontSize":14,"titlePadding":6,"orient":"none","legendX":390,"legendY":7,"symbolType":"square","symbolSize":441,"symbolStrokeColor":"white","symbolStrokeWidth":1,"labelFontSize":14,"labelLimit":400,"rowPadding":-3,"labelOffset":10,"labelExpr":"['','1\u2003\u2009Not at all','2\u2003\u2009A little','3\u2003\u2009A moderate amount','4\u2003\u2009A lot','5\u2003\u2009A great deal'][datum.value]"}},"order":{"field":"code","type":"quantitative","sort":"descending"}}},{"data":{"name":"pticks"},"mark":{"type":"text","radius":80,"font":"DejaVu Sans","fontSize":14,"color":"#222"},"encoding":{"theta":{"field":"t","type":"quantitative","scale":{"domain":[0,100]}},"text":{"field":"tl","type":"nominal"}}}]}
]},
{"width":1,"height":5,"data":{"values":[]},"mark":"point"},
{"title":{"text":"Feeling of disconnection from society","anchor":"start","fontSize":17,"offset":8,"dx":8},"spacing":11,"hconcat":[
{"width":180,"height":180,"layer":[{"data":{"name":"pies"},"transform":[{"filter":"datum.q=='disc'&&datum.c=='UK'"}],"mark":{"type":"arc","outerRadius":70},"encoding":{"theta":{"field":"pct","type":"quantitative","stack":true,"scale":{"domain":[0,100]}},"color":{"field":"code","type":"nominal","scale":{"domain":[1,2,3,4,5,6],"range":["#440154","#414487","#2A788E","#22A884","#7AD151","#FDE725"]},"legend":{"title":"Disconnection from society","titleFontSize":14,"titlePadding":6,"titleLimit":400,"orient":"none","legendX":383,"legendY":8,"symbolType":"square","symbolSize":441,"symbolStrokeColor":"white","symbolStrokeWidth":1,"labelFontSize":14,"labelLimit":400,"rowPadding":-3,"labelOffset":10,"labelExpr":"['','1\u2003\u2009None of the time','2\u2003\u2009A little of the time','3\u2003\u2009Some of the time','4\u2003\u2009A good bit of the time','5\u2003\u2009Most of the time','6\u2003\u2009All of the time'][datum.value]"}},"order":{"field":"code","type":"quantitative","sort":"descending"}}},{"data":{"name":"pticks"},"mark":{"type":"text","radius":80,"font":"DejaVu Sans","fontSize":14,"color":"#222"},"encoding":{"theta":{"field":"t","type":"quantitative","scale":{"domain":[0,100]}},"text":{"field":"tl","type":"nominal"}}}]},
{"width":180,"height":180,"layer":[{"data":{"name":"pies"},"transform":[{"filter":"datum.q=='disc'&&datum.c=='Spain'"}],"mark":{"type":"arc","outerRadius":70},"encoding":{"theta":{"field":"pct","type":"quantitative","stack":true,"scale":{"domain":[0,100]}},"color":{"field":"code","type":"nominal","scale":{"domain":[1,2,3,4,5,6],"range":["#440154","#414487","#2A788E","#22A884","#7AD151","#FDE725"]},"legend":{"title":"Disconnection from society","titleFontSize":14,"titlePadding":6,"titleLimit":400,"orient":"none","legendX":383,"legendY":8,"symbolType":"square","symbolSize":441,"symbolStrokeColor":"white","symbolStrokeWidth":1,"labelFontSize":14,"labelLimit":400,"rowPadding":-3,"labelOffset":10,"labelExpr":"['','1\u2003\u2009None of the time','2\u2003\u2009A little of the time','3\u2003\u2009Some of the time','4\u2003\u2009A good bit of the time','5\u2003\u2009Most of the time','6\u2003\u2009All of the time'][datum.value]"}},"order":{"field":"code","type":"quantitative","sort":"descending"}}},{"data":{"name":"pticks"},"mark":{"type":"text","radius":80,"font":"DejaVu Sans","fontSize":14,"color":"#222"},"encoding":{"theta":{"field":"t","type":"quantitative","scale":{"domain":[0,100]}},"text":{"field":"tl","type":"nominal"}}}]}
]},
{"width":1,"height":52,"data":{"values":[]},"mark":"point"},
{"title":{"text":"Perception of other’s efforts to improve communication","anchor":"start","fontSize":17,"offset":12,"dx":8},"spacing":11,"hconcat":[
{"width":180,"height":180,"layer":[{"data":{"name":"pies"},"transform":[{"filter":"datum.q=='effort'&&datum.c=='UK'"}],"mark":{"type":"arc","outerRadius":70},"encoding":{"theta":{"field":"pct","type":"quantitative","stack":true,"scale":{"domain":[0,100]}},"color":{"field":"code","type":"nominal","scale":{"domain":[1,2,3,4,5],"range":["#440154","#3B528B","#21908C","#5DC863","#FDE725"]},"legend":{"title":null,"orient":"none","legendX":387,"legendY":30,"symbolType":"square","symbolSize":441,"symbolStrokeColor":"white","symbolStrokeWidth":1,"labelFontSize":14,"labelLimit":400,"rowPadding":-3,"labelOffset":10,"labelExpr":"['','1\u2003\u2009Not at all','2\u2003\u2009A little','3\u2003\u2009A moderate amount','4\u2003\u2009A lot','5\u2003\u2009A great deal'][datum.value]"}},"order":{"field":"code","type":"quantitative","sort":"descending"}}},{"data":{"name":"pticks"},"mark":{"type":"text","radius":80,"font":"DejaVu Sans","fontSize":14,"color":"#222"},"encoding":{"theta":{"field":"t","type":"quantitative","scale":{"domain":[0,100]}},"text":{"field":"tl","type":"nominal"}}},{"data":{"name":"stray"},"transform":[{"filter":"datum.w=='effort'"}],"mark":{"type":"text","radius":113,"fontSize":15,"color":"#222"},"encoding":{"theta":{"field":"t","type":"quantitative","scale":{"domain":[0,100]}},"text":{"field":"tl","type":"nominal"}}}]},
{"width":180,"height":180,"layer":[{"data":{"name":"pies"},"transform":[{"filter":"datum.q=='effort'&&datum.c=='Spain'"}],"mark":{"type":"arc","outerRadius":70},"encoding":{"theta":{"field":"pct","type":"quantitative","stack":true,"scale":{"domain":[0,100]}},"color":{"field":"code","type":"nominal","scale":{"domain":[1,2,3,4,5],"range":["#440154","#3B528B","#21908C","#5DC863","#FDE725"]},"legend":{"title":null,"orient":"none","legendX":387,"legendY":30,"symbolType":"square","symbolSize":441,"symbolStrokeColor":"white","symbolStrokeWidth":1,"labelFontSize":14,"labelLimit":400,"rowPadding":-3,"labelOffset":10,"labelExpr":"['','1\u2003\u2009Not at all','2\u2003\u2009A little','3\u2003\u2009A moderate amount','4\u2003\u2009A lot','5\u2003\u2009A great deal'][datum.value]"}},"order":{"field":"code","type":"quantitative","sort":"descending"}}},{"data":{"name":"pticks"},"mark":{"type":"text","radius":80,"font":"DejaVu Sans","fontSize":14,"color":"#222"},"encoding":{"theta":{"field":"t","type":"quantitative","scale":{"domain":[0,100]}},"text":{"field":"tl","type":"nominal"}}}]}
]},
{"width":1,"height":19,"data":{"values":[]},"mark":"point"},
{"title":{"text":"Perceived efficacy of clear windows masks","anchor":"start","fontSize":17,"offset":3,"dx":8},"spacing":11,"hconcat":[
{"width":180,"height":180,"layer":[{"data":{"name":"pies"},"transform":[{"filter":"datum.q=='clear'&&datum.c=='UK'"}],"mark":{"type":"arc","outerRadius":70},"encoding":{"theta":{"field":"pct","type":"quantitative","stack":true,"scale":{"domain":[0,100]}},"color":{"field":"code","type":"nominal","scale":{"domain":[1,2,3,4,5],"range":["#440154","#3B528B","#21908C","#5DC863","#FDE725"]},"legend":null},"order":{"field":"code","type":"quantitative","sort":"descending"}}},{"data":{"name":"pticks"},"mark":{"type":"text","radius":80,"font":"DejaVu Sans","fontSize":14,"color":"#222"},"encoding":{"theta":{"field":"t","type":"quantitative","scale":{"domain":[0,100]}},"text":{"field":"tl","type":"nominal"}}}]},
{"width":180,"height":180,"layer":[{"data":{"name":"pies"},"transform":[{"filter":"datum.q=='clear'&&datum.c=='Spain'"}],"mark":{"type":"arc","outerRadius":70},"encoding":{"theta":{"field":"pct","type":"quantitative","stack":true,"scale":{"domain":[0,100]}},"color":{"field":"code","type":"nominal","scale":{"domain":[1,2,3,4,5],"range":["#440154","#3B528B","#21908C","#5DC863","#FDE725"]},"legend":null},"order":{"field":"code","type":"quantitative","sort":"descending"}}},{"data":{"name":"pticks"},"mark":{"type":"text","radius":80,"font":"DejaVu Sans","fontSize":14,"color":"#222"},"encoding":{"theta":{"field":"t","type":"quantitative","scale":{"domain":[0,100]}},"text":{"field":"tl","type":"nominal"}}}]}
]},
{"title":{"text":"Perceived efficacy of transparent face shields","anchor":"start","fontSize":17,"offset":5},"spacing":11,"hconcat":[
{"width":180,"height":180,"layer":[{"data":{"name":"pies"},"transform":[{"filter":"datum.q=='shield'&&datum.c=='UK'"}],"mark":{"type":"arc","outerRadius":70},"encoding":{"theta":{"field":"pct","type":"quantitative","stack":true,"scale":{"domain":[0,100]}},"color":{"field":"code","type":"nominal","scale":{"domain":[1,2,3,4,5],"range":["#440154","#3B528B","#21908C","#5DC863","#FDE725"]},"legend":null},"order":{"field":"code","type":"quantitative","sort":"descending"}}},{"data":{"name":"pticks"},"mark":{"type":"text","radius":80,"font":"DejaVu Sans","fontSize":14,"color":"#222"},"encoding":{"theta":{"field":"t","type":"quantitative","scale":{"domain":[0,100]}},"text":{"field":"tl","type":"nominal"}}}]},
{"width":180,"height":180,"layer":[{"data":{"name":"pies"},"transform":[{"filter":"datum.q=='shield'&&datum.c=='Spain'"}],"mark":{"type":"arc","outerRadius":70},"encoding":{"theta":{"field":"pct","type":"quantitative","stack":true,"scale":{"domain":[0,100]}},"color":{"field":"code","type":"nominal","scale":{"domain":[1,2,3,4,5],"range":["#440154","#3B528B","#21908C","#5DC863","#FDE725"]},"legend":null},"order":{"field":"code","type":"quantitative","sort":"descending"}}},{"data":{"name":"pticks"},"mark":{"type":"text","radius":80,"font":"DejaVu Sans","fontSize":14,"color":"#222"},"encoding":{"theta":{"field":"t","type":"quantitative","scale":{"domain":[0,100]}},"text":{"field":"tl","type":"nominal"}}}]}
]}
]},
{"spacing":0,"resolve":{"scale":{"color":"independent"}},"vconcat":[
{"width":1,"height":5,"data":{"values":[]},"mark":"point"},
{"data":{"name":"vio"},"transform":[{"filter":"datum.p==1"}],
"title":{"text":["Difficulty communicating with others who","wear mask in professional situations"],"anchor":"start","fontSize":12.5,"lineHeight":17,"offset":37},
"facet":{"column":{"field":"g","type":"nominal","sort":["UK","Spain"],"title":null,"header":{"labelOrient":"bottom","labelFontSize":12,"labelPadding":29,"labelColor":"#000"}}},
"spacing":11,
"spec":{"width":84,"height":132,"resolve":{"scale":{"x":"independent"}},"layer":[
{"transform":[{"filter":"datum.k=='d'"}],"encoding":{"y":{"field":"v","type":"quantitative","scale":{"domain":[0.45,5.7],"nice":false,"zero":false},"axis":{"tickCount":5,"title":null,"domain":false,"grid":false,"tickSize":5,"tickColor":"#333","labelFontSize":11,"labelColor":"#222","labelPadding":3,"offset":6,"labelOverlap":false}},"x":{"field":"d","type":"quantitative","stack":null,"scale":{"domain":[-42,42]},"axis":null}},"layer":[{"mark":{"type":"area","orient":"horizontal"},"encoding":{"color":{"field":"g","type":"nominal","scale":{"domain":["UK","Spain"],"range":["#00BFC4","#F8766D"]},"legend":null}}},{"mark":{"type":"line","color":"#333","strokeWidth":1},"encoding":{"order":{"field":"v","type":"quantitative"}}}]},
{"transform":[{"filter":"datum.k=='d'"}],"encoding":{"y":{"field":"v","type":"quantitative","scale":{"domain":[0.45,5.7],"nice":false,"zero":false},"axis":{"tickCount":5,"title":null,"domain":false,"grid":false,"tickSize":5,"tickColor":"#333","labelFontSize":11,"labelColor":"#222","labelPadding":3,"offset":6,"labelOverlap":false}},"x":{"field":"d","type":"quantitative","stack":null,"scale":{"domain":[-42,42],"reverse":true},"axis":null}},"layer":[{"mark":{"type":"area","orient":"horizontal"},"encoding":{"color":{"field":"g","type":"nominal","scale":{"domain":["UK","Spain"],"range":["#00BFC4","#F8766D"]},"legend":null}}},{"mark":{"type":"line","color":"#333","strokeWidth":1},"encoding":{"order":{"field":"v","type":"quantitative"}}}]},
{"transform":[{"filter":"datum.k=='b'"}],"encoding":{"x":{"datum":0,"type":"quantitative","scale":{"domain":[-42,42]},"axis":null}},"layer":[
{"mark":{"type":"bar","width":50,"stroke":"#333","strokeWidth":1},"encoding":{"y":{"field":"q1","type":"quantitative","scale":{"domain":[0.45,5.7],"nice":false,"zero":false},"axis":{"tickCount":5,"title":null,"domain":false,"grid":false,"tickSize":5,"tickColor":"#333","labelFontSize":11,"labelColor":"#222","labelPadding":3,"offset":6,"labelOverlap":false}},"y2":{"field":"q3"},"color":{"field":"g","type":"nominal","scale":{"domain":["UK","Spain"],"range":["#00BFC4","#F8766D"]},"legend":null}}},
{"mark":{"type":"tick","orient":"horizontal","size":50,"thickness":1.5,"color":"#333"},"encoding":{"y":{"field":"med","type":"quantitative"}}},
{"mark":{"type":"rule","color":"#333"},"encoding":{"y":{"field":"lo","type":"quantitative"},"y2":{"field":"q1"}}},
{"mark":{"type":"rule","color":"#333"},"encoding":{"y":{"field":"q3","type":"quantitative"},"y2":{"field":"hi"}}},
{"mark":{"type":"tick","orient":"horizontal","size":24,"thickness":1,"color":"#333"},"encoding":{"y":{"field":"lo","type":"quantitative"}}},
{"mark":{"type":"tick","orient":"horizontal","size":24,"thickness":1,"color":"#333"},"encoding":{"y":{"field":"hi","type":"quantitative"}}}
]}
]}},
{"width":1,"height":28,"data":{"values":[]},"mark":"point"},
{"data":{"name":"vio"},"transform":[{"filter":"datum.p==2"}],
"title":{"text":["Difficulty communicating with others who","wear mask in informal social situations"],"anchor":"start","fontSize":12.5,"lineHeight":17,"offset":5},
"facet":{"column":{"field":"g","type":"nominal","sort":["UK","Spain"],"title":null,"header":{"labelOrient":"bottom","labelFontSize":12,"labelPadding":32,"labelColor":"#000"}}},
"spacing":11,
"spec":{"width":84,"height":128,"resolve":{"scale":{"x":"independent"}},"layer":[
{"transform":[{"filter":"datum.k=='d'"}],"encoding":{"y":{"field":"v","type":"quantitative","scale":{"domain":[0.9,5.95],"nice":false,"zero":false},"axis":{"tickCount":5,"title":null,"domain":false,"grid":false,"tickSize":5,"tickColor":"#333","labelFontSize":11,"labelColor":"#222","labelPadding":3,"offset":6,"labelOverlap":false}},"x":{"field":"d","type":"quantitative","stack":null,"scale":{"domain":[-42,42]},"axis":null}},"layer":[{"mark":{"type":"area","orient":"horizontal"},"encoding":{"color":{"field":"g","type":"nominal","scale":{"domain":["UK","Spain"],"range":["#00BFC4","#F8766D"]},"legend":null}}},{"mark":{"type":"line","color":"#333","strokeWidth":1},"encoding":{"order":{"field":"v","type":"quantitative"}}}]},
{"transform":[{"filter":"datum.k=='d'"}],"encoding":{"y":{"field":"v","type":"quantitative","scale":{"domain":[0.9,5.95],"nice":false,"zero":false},"axis":{"tickCount":5,"title":null,"domain":false,"grid":false,"tickSize":5,"tickColor":"#333","labelFontSize":11,"labelColor":"#222","labelPadding":3,"offset":6,"labelOverlap":false}},"x":{"field":"d","type":"quantitative","stack":null,"scale":{"domain":[-42,42],"reverse":true},"axis":null}},"layer":[{"mark":{"type":"area","orient":"horizontal"},"encoding":{"color":{"field":"g","type":"nominal","scale":{"domain":["UK","Spain"],"range":["#00BFC4","#F8766D"]},"legend":null}}},{"mark":{"type":"line","color":"#333","strokeWidth":1},"encoding":{"order":{"field":"v","type":"quantitative"}}}]},
{"transform":[{"filter":"datum.k=='b'"}],"encoding":{"x":{"datum":0,"type":"quantitative","scale":{"domain":[-42,42]},"axis":null}},"layer":[
{"mark":{"type":"bar","width":52,"stroke":"#333","strokeWidth":1},"encoding":{"y":{"field":"q1","type":"quantitative","scale":{"domain":[0.9,5.95],"nice":false,"zero":false},"axis":{"tickCount":5,"title":null,"domain":false,"grid":false,"tickSize":5,"tickColor":"#333","labelFontSize":11,"labelColor":"#222","labelPadding":3,"offset":6,"labelOverlap":false}},"y2":{"field":"q3"},"color":{"field":"g","type":"nominal","scale":{"domain":["UK","Spain"],"range":["#00BFC4","#F8766D"]},"legend":null}}},
{"mark":{"type":"tick","orient":"horizontal","size":52,"thickness":1.5,"color":"#333"},"encoding":{"y":{"field":"med","type":"quantitative"}}},
{"mark":{"type":"rule","color":"#333"},"encoding":{"y":{"field":"lo","type":"quantitative"},"y2":{"field":"q1"}}},
{"mark":{"type":"rule","color":"#333"},"encoding":{"y":{"field":"q3","type":"quantitative"},"y2":{"field":"hi"}}},
{"mark":{"type":"tick","orient":"horizontal","size":24,"thickness":1,"color":"#333"},"encoding":{"y":{"field":"lo","type":"quantitative"}}},
{"mark":{"type":"tick","orient":"horizontal","size":24,"thickness":1,"color":"#333"},"encoding":{"y":{"field":"hi","type":"quantitative"}}}
]}
]}},
{"width":1,"height":75,"data":{"values":[]},"mark":"point"},
{"data":{"name":"vio"},"transform":[{"filter":"datum.p==3"}],
"title":{"text":"Wellbeing: quality of life","anchor":"middle","fontSize":15.5,"offset":32},
"facet":{"column":{"field":"g","type":"nominal","sort":["UK","Spain"],"title":null,"header":{"labelOrient":"bottom","labelFontSize":12,"labelPadding":29,"labelColor":"#000"}}},
"spacing":11,
"spec":{"width":84,"height":156,"resolve":{"scale":{"x":"independent"}},"layer":[
{"transform":[{"filter":"datum.k=='d'"}],"encoding":{"y":{"field":"v","type":"quantitative","scale":{"domain":[0,102],"nice":false,"zero":false},"axis":{"values":[0,50,100],"title":null,"domain":false,"grid":false,"tickSize":5,"tickColor":"#333","labelFontSize":11,"labelColor":"#222","labelPadding":3,"offset":6,"labelOverlap":false}},"x":{"field":"d","type":"quantitative","stack":null,"scale":{"domain":[-42,42]},"axis":null}},"layer":[{"mark":{"type":"area","orient":"horizontal"},"encoding":{"color":{"field":"g","type":"nominal","scale":{"domain":["UK","Spain"],"range":["#00BFC4","#F8766D"]},"legend":null}}},{"mark":{"type":"line","color":"#333","strokeWidth":1},"encoding":{"order":{"field":"v","type":"quantitative"}}}]},
{"transform":[{"filter":"datum.k=='d'"}],"encoding":{"y":{"field":"v","type":"quantitative","scale":{"domain":[0,102],"nice":false,"zero":false},"axis":{"values":[0,50,100],"title":null,"domain":false,"grid":false,"tickSize":5,"tickColor":"#333","labelFontSize":11,"labelColor":"#222","labelPadding":3,"offset":6,"labelOverlap":false}},"x":{"field":"d","type":"quantitative","stack":null,"scale":{"domain":[-42,42],"reverse":true},"axis":null}},"layer":[{"mark":{"type":"area","orient":"horizontal"},"encoding":{"color":{"field":"g","type":"nominal","scale":{"domain":["UK","Spain"],"range":["#00BFC4","#F8766D"]},"legend":null}}},{"mark":{"type":"line","color":"#333","strokeWidth":1},"encoding":{"order":{"field":"v","type":"quantitative"}}}]},
{"transform":[{"filter":"datum.k=='b'"}],"encoding":{"x":{"datum":0,"type":"quantitative","scale":{"domain":[-42,42]},"axis":null}},"layer":[
{"mark":{"type":"bar","width":48,"stroke":"#333","strokeWidth":1},"encoding":{"y":{"field":"q1","type":"quantitative","scale":{"domain":[0,102],"nice":false,"zero":false},"axis":{"values":[0,50,100],"title":null,"domain":false,"grid":false,"tickSize":5,"tickColor":"#333","labelFontSize":11,"labelColor":"#222","labelPadding":3,"offset":6,"labelOverlap":false}},"y2":{"field":"q3"},"color":{"field":"g","type":"nominal","scale":{"domain":["UK","Spain"],"range":["#00BFC4","#F8766D"]},"legend":null}}},
{"mark":{"type":"tick","orient":"horizontal","size":48,"thickness":1.5,"color":"#333"},"encoding":{"y":{"field":"med","type":"quantitative"}}},
{"mark":{"type":"rule","color":"#333"},"encoding":{"y":{"field":"lo","type":"quantitative"},"y2":{"field":"q1"}}},
{"mark":{"type":"rule","color":"#333"},"encoding":{"y":{"field":"q3","type":"quantitative"},"y2":{"field":"hi"}}},
{"mark":{"type":"tick","orient":"horizontal","size":24,"thickness":1,"color":"#333"},"encoding":{"y":{"field":"lo","type":"quantitative"}}},
{"mark":{"type":"tick","orient":"horizontal","size":24,"thickness":1,"color":"#333"},"encoding":{"y":{"field":"hi","type":"quantitative"}}}
]}
]}}
]}
]}
]}
]
}
